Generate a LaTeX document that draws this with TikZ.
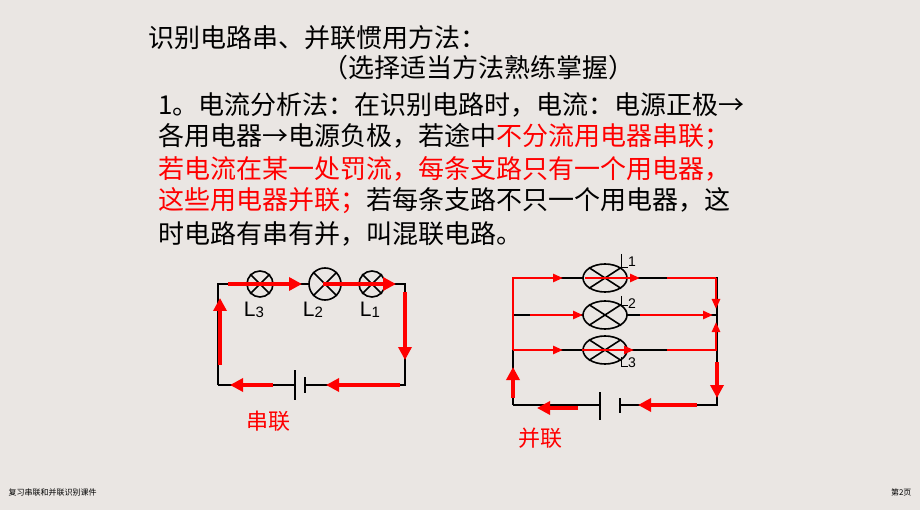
\documentclass[tikz,border=0pt]{standalone}
\usepackage{fontspec}
\setmainfont{Noto Sans CJK SC}
\newfontfamily\lat{Liberation Sans}
\usetikzlibrary{arrows.meta,shapes.geometric}
\definecolor{bg}{HTML}{EAE6E3}
\definecolor{rd}{HTML}{FF0000}
\begin{document}
\begin{tikzpicture}[x=1pt,y=-1pt,
  wire/.style={black,line width=1.6pt},
  flow/.style={rd,line width=4pt,-{Triangle[length=13pt,width=13pt]}},
  thin/.style={rd,line width=2.5pt,-{Triangle[length=10pt,width=8pt]}},
  lamp/.style={circle,draw,line width=1.6pt,fill=bg,minimum size=26pt,inner sep=0pt},
  elamp/.style={ellipse,draw,line width=1.6pt,fill=bg,minimum width=44pt,minimum height=28pt,inner sep=0pt},
  txt/.style={anchor=west,inner sep=0pt,font=\fontsize{26}{26}\selectfont},
  lbl/.style={inner sep=0pt,font=\lat\fontsize{21}{21}\selectfont}]
\useasboundingbox (0,0) rectangle (920,510);
\fill[bg] (0,0) rectangle (920,510);
\node[txt] (t1) at (148,38) {识别电路串、并联惯用方法：};
\node[txt] (t2) at (322,68) {（选择适当方法熟练掌握）};
\node[txt] (t3) at (158,105) {1。电流分析法：在识别电路时，电流：电源正极→};
\node[txt] (t4) at (158,137) {各用电器→电源负极，若途中\textcolor{rd}{不分流用电器串联；}};
\node[txt,text=rd] (t5) at (158,169) {若电流在某一处罚流，每条支路只有一个用电器，};
\node[txt] (t6) at (158,201) {\textcolor{rd}{这些用电器并联；}若每条支路不只一个用电器，这};
\node[txt] (t7) at (158,234) {时电路有串有并，叫混联电路。};
\node[anchor=west,font=\fontsize{8}{8}\selectfont] (f1) at (5,492) {复习串联和并联识别课件};
\node[anchor=east,font=\fontsize{8}{8}\selectfont] (f2) at (915,492) {第2页};
% left circuit
\coordinate (a1) at (218,284); \coordinate (a2) at (405,284);
\coordinate (a3) at (405,385); \coordinate (a4) at (218,385);
\draw[wire] (a4)--(a1)--(a2)--(a3)--(305,385);
\draw[wire] (295,385)--(a4);
\draw[wire] (295,370)--(295,400);
\draw[wire,line width=2.4pt] (305,377)--(305,393);
\foreach \n/\x/\s in {L3/260/26,L2/325/32,L1/372/26}{
  \node[lamp,minimum size=\s pt] (\n) at (\x,284) {};
  \draw[wire] (\n.north west)--(\n.south east) (\n.north east)--(\n.south west);}
\node[lbl] at (254,310) {L\raisebox{-1pt}{\fontsize{15}{15}\selectfont 3}};
\node[lbl] at (313,310) {L\raisebox{-1pt}{\fontsize{15}{15}\selectfont 2}};
\node[lbl] at (370,310) {L\raisebox{-1pt}{\fontsize{15}{15}\selectfont 1}};
\draw[flow] (228,284)--(302,284);
\draw[flow] (323,284)--(396,284);
\draw[flow] (405,292)--(405,360);
\draw[flow] (400,385)--(326,385);
\draw[flow] (273,385)--(230,385);
\draw[flow] (220,365)--(220,298);
\node[text=rd,font=\fontsize{22}{22}\selectfont] (s1) at (268,421) {串联};
% right circuit
\coordinate (b1) at (513,278); \coordinate (b2) at (717,278);
\coordinate (b3) at (717,405); \coordinate (b4) at (513,405);
\draw[wire] (b4)--(b1)--(b2)--(b3)--(620,405);
\draw[wire] (600,405)--(b4);
\draw[wire] (513,315)--(717,315) (513,350)--(717,350);
\draw[wire] (600,392)--(600,420);
\draw[wire,line width=2.4pt] (620,398)--(620,413);
\foreach \n/\y in {P1/278,P2/315,P3/350}{
  \node[elamp] (\n) at (605,\y) {};
  \draw[wire] (\n.north west)--(\n.south east) (\n.north east)--(\n.south west);}
\draw[black,line width=1pt] (621,254)--(621,268)--(628,268);
\node[lbl,anchor=west,font=\lat\fontsize{14}{14}\selectfont] at (628,262) {1};
\draw[black,line width=1pt] (621,296)--(621,306)--(628,306);
\node[lbl,anchor=west,font=\lat\fontsize{14}{14}\selectfont] at (628,304) {2};
\draw[black,line width=1pt] (621,357)--(621,366)--(628,366);
\node[lbl,anchor=west,font=\lat\fontsize{14}{14}\selectfont] at (628,363) {3};
\draw[rd,line width=2.5pt] (513,350)--(513,278)--(560,278);
\draw[thin] (550,278)--(563,278);
\draw[thin] (585,278)--(640,278);
\draw[rd,line width=2.5pt] (667,278)--(716,278);
\draw[thin] (716,278)--(716,309);
\draw[thin] (530,315)--(583,315);
\draw[thin] (640,315)--(713,315);
\draw[rd,line width=2.5pt] (513,350)--(560,350);
\draw[thin] (550,350)--(563,350);
\draw[thin] (582,350)--(634,350);
\draw[rd,line width=2.5pt] (667,350)--(716,350)--(716,330);
\draw[thin] (716,335)--(716,322);
\draw[flow] (717,362)--(717,398);
\draw[flow] (697,405)--(638,405);
\draw[flow] (578,408)--(537,408);
\draw[flow] (513,398)--(513,367);
\node[text=rd,font=\fontsize{22}{22}\selectfont] (s2) at (540,438) {并联};
\end{tikzpicture}
\end{document}
